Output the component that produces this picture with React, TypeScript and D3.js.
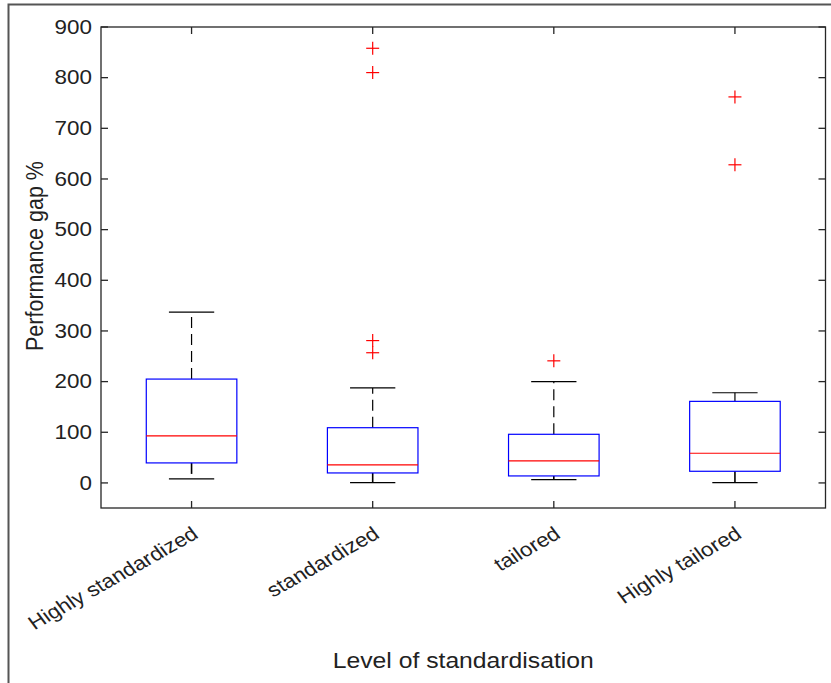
import React from "react";
import * as d3 from "d3";

const categories = ["Highly standardized", "standardized", "tailored", "Highly tailored"];
const whiskerLow = [8, 0.5, 6.5, 0.6];
const q1 = [39.5, 19.7, 13.8, 23];
const medians = [93, 35.5, 43.4, 58.6];
const q3 = [205, 109, 96, 161];
const whiskerHigh = [337, 187.5, 200, 178];
const outliers: number[][] = [[], [858, 810, 281, 257], [241], [762, 628]];
const yTicks = [0, 100, 200, 300, 400, 500, 600, 700, 800, 900];

const W = 831, H = 683;
const left = 101, right = 825.5, top = 27, bottom = 508;
const FONT = "Liberation Sans, Arial, Helvetica, sans-serif";
const AX = "#262626";
const SX = 1.15;

export default function App() {
  const x = d3.scaleLinear().domain([0.5, 4.5]).range([left, right]);
  const y = d3.scaleLinear().domain([-49.5, 900]).range([bottom, top]);
  const step = x(2) - x(1);
  const boxW = step * 0.5;
  const capW = step * 0.25;
  const tickLen = 7;

  return (
    <svg width={W} height={H} style={{ position: "absolute", left: 0, top: 0, background: "#fff" }} fontFamily={FONT}>
      <rect x={0} y={0} width={W} height={H} fill="#fff" />
      {/* outer frame */}
      <path d={`M8.5,${H} V4.5 H${W}`} fill="none" stroke="#555" strokeWidth={2} />
      {/* boxes */}
      {categories.map((c, i) => {
        const cx = x(i + 1);
        return (
          <g key={c}>
            <line x1={cx} x2={cx} y1={y(q3[i])} y2={y(whiskerHigh[i])} stroke="#000" strokeWidth={1.2} strokeDasharray="11,6" />
            <line x1={cx} x2={cx} y1={y(q1[i])} y2={y(whiskerLow[i])} stroke="#000" strokeWidth={1.6} strokeDasharray="11,6" />
            <line x1={cx - capW / 2} x2={cx + capW / 2} y1={y(whiskerHigh[i])} y2={y(whiskerHigh[i])} stroke="#000" strokeWidth={1.2} />
            <line x1={cx - capW / 2} x2={cx + capW / 2} y1={y(whiskerLow[i])} y2={y(whiskerLow[i])} stroke="#000" strokeWidth={1.2} />
            <rect x={cx - boxW / 2} y={y(q3[i])} width={boxW} height={y(q1[i]) - y(q3[i])} fill="none" stroke="#0000ff" strokeWidth={1.2} />
            <line x1={cx - boxW / 2} x2={cx + boxW / 2} y1={y(medians[i])} y2={y(medians[i])} stroke="#ff0000" strokeWidth={1.2} />
            {outliers[i].map((v, j) => (
              <g key={j} stroke="#ff0000" strokeWidth={1.2}>
                <line x1={cx - 6.5} x2={cx + 6.5} y1={y(v)} y2={y(v)} />
                <line x1={cx} x2={cx} y1={y(v) - 6.5} y2={y(v) + 6.5} />
              </g>
            ))}
          </g>
        );
      })}
      {/* axes box */}
      <rect x={left} y={top} width={right - left} height={bottom - top} fill="none" stroke={AX} strokeWidth={1.3} />
      {yTicks.map((t) => (
        <g key={t}>
          <line x1={left} x2={left + tickLen} y1={y(t)} y2={y(t)} stroke={AX} strokeWidth={1.3} />
          <line x1={right} x2={right - tickLen} y1={y(t)} y2={y(t)} stroke={AX} strokeWidth={1.3} />
          <text transform={`translate(${left - 9},${y(t)}) scale(${SX},1)`} dy="0.35em" textAnchor="end" fontSize={19.5} fill="#222">{t}</text>
        </g>
      ))}
      {categories.map((c, i) => {
        const cx = x(i + 1);
        return (
          <g key={c}>
            <line x1={cx} x2={cx} y1={bottom} y2={bottom - tickLen} stroke={AX} strokeWidth={1.3} />
            <line x1={cx} x2={cx} y1={top} y2={top + tickLen} stroke={AX} strokeWidth={1.3} />
            <text transform={`translate(${cx + 8},537) scale(${SX},1) rotate(-33)`} textAnchor="end" fontSize={19.5} fill="#222">{c}</text>
          </g>
        );
      })}
      <text transform={`translate(${(left + right) / 2},668) scale(${SX},1)`} textAnchor="middle" fontSize={21.5} fill="#222">Level of standardisation</text>
      <text transform={`translate(43,256) scale(${SX},1) rotate(-90)`} textAnchor="middle" fontSize={21.5} fill="#222">Performance gap %</text>
    </svg>
  );
}
